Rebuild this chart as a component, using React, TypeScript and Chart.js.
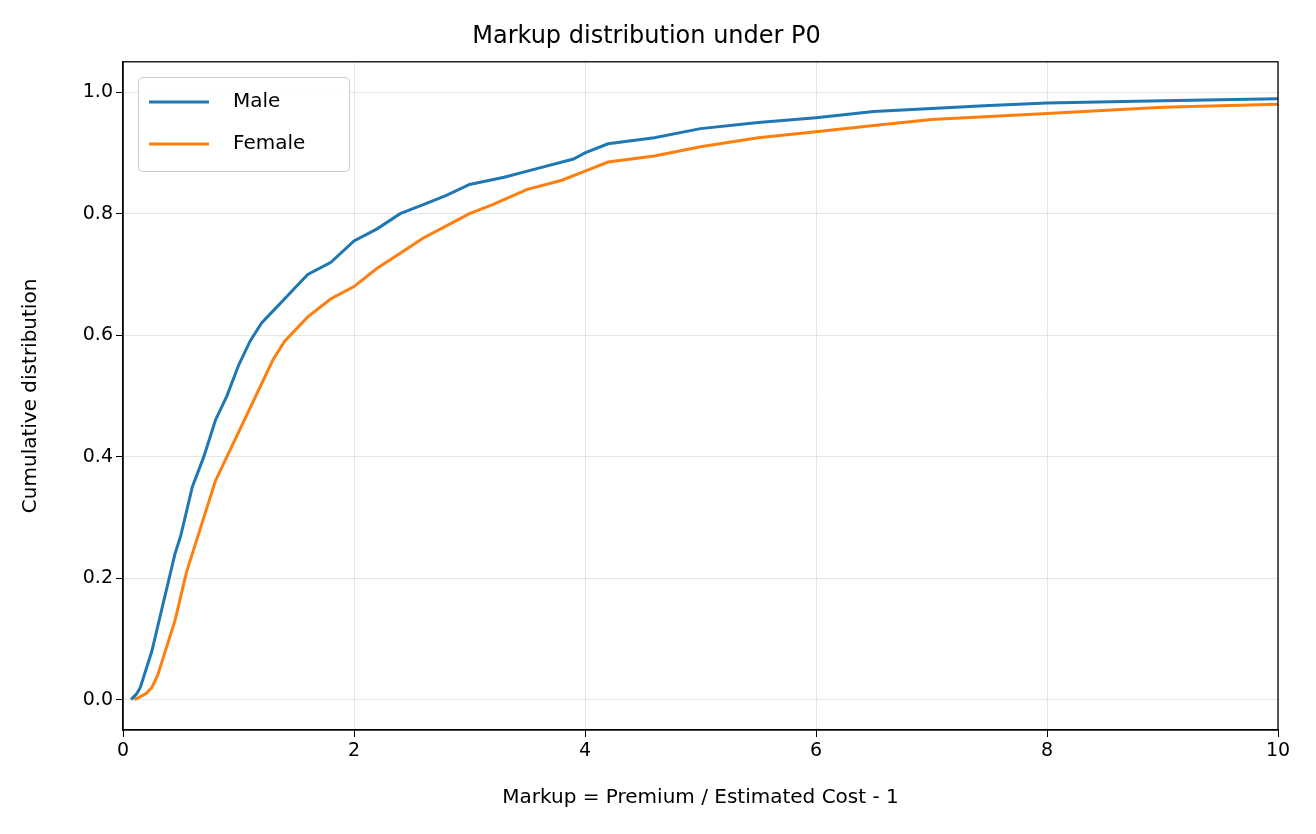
import React, { useEffect, useRef } from "react";
import { Chart, registerables } from "chart.js";
Chart.register(...registerables);

const maleX = [0.07,0.12,0.15,0.2,0.25,0.3,0.35,0.4,0.45,0.5,0.55,0.6,0.7,0.8,0.9,1.0,1.1,1.2,1.3,1.4,1.5,1.6,1.8,2.0,2.2,2.4,2.6,2.8,3.0,3.3,3.6,3.9,4.0,4.2,4.6,5.0,5.5,6.0,6.5,7.0,7.5,8.0,9.0,10];
const maleY = [0,0.01,0.02,0.05,0.08,0.12,0.16,0.2,0.24,0.27,0.31,0.35,0.4,0.46,0.5,0.55,0.59,0.62,0.64,0.66,0.68,0.7,0.72,0.755,0.775,0.8,0.815,0.83,0.848,0.86,0.875,0.89,0.9,0.915,0.925,0.94,0.95,0.958,0.968,0.973,0.978,0.982,0.986,0.989];
const femaleX = [0.1,0.15,0.2,0.25,0.3,0.35,0.4,0.45,0.5,0.55,0.6,0.7,0.8,0.9,1.0,1.1,1.2,1.3,1.4,1.6,1.8,2.0,2.2,2.4,2.6,2.8,3.0,3.2,3.5,3.8,4.0,4.2,4.6,5.0,5.5,6.0,6.5,7.0,8.0,9.0,10];
const femaleY = [0,0.005,0.01,0.02,0.04,0.07,0.1,0.13,0.17,0.21,0.24,0.3,0.36,0.4,0.44,0.48,0.52,0.56,0.59,0.63,0.66,0.68,0.71,0.735,0.76,0.78,0.8,0.815,0.84,0.855,0.87,0.885,0.895,0.91,0.925,0.935,0.945,0.955,0.965,0.975,0.98];
const seriesNames = ["Male", "Female"];
const colors = ["#1f77b4", "#ff7f0e"];
const FONT = "DejaVu Sans";

export default function App() {
  const ref = useRef<HTMLCanvasElement>(null);
  useEffect(() => {
    document.body.style.margin = "0";
    const legendPlugin = {
      id: "mplLegend",
      afterDraw(chart: any) {
        const ctx = chart.ctx;
        ctx.save();
        const x = 138, y = 77, w = 211, h = 94;
        ctx.fillStyle = "rgba(255,255,255,0.9)";
        ctx.strokeStyle = "#cccccc";
        ctx.lineWidth = 1;
        ctx.beginPath();
        (ctx as any).roundRect(x + 0.5, y + 0.5, w, h, 4);
        ctx.fill();
        ctx.stroke();
        ctx.font = `20px '${FONT}'`;
        ctx.textBaseline = "middle";
        seriesNames.forEach((n, i) => {
          const yy = y + 25 + i * 42;
          ctx.strokeStyle = colors[i];
          ctx.lineWidth = 3;
          ctx.beginPath();
          ctx.moveTo(x + 11, yy);
          ctx.lineTo(x + 71, yy);
          ctx.stroke();
          ctx.fillStyle = "#000";
          ctx.fillText(n, x + 95, yy);
        });
        ctx.restore();
      },
    };
    const mk = (xs: number[], ys: number[]) => xs.map((v, i) => ({ x: v, y: ys[i] }));
    const chart = new Chart(ref.current!, {
      type: "line",
      data: {
        datasets: [
          { label: seriesNames[0], data: mk(maleX, maleY), borderColor: colors[0], borderWidth: 3, pointRadius: 0 },
          { label: seriesNames[1], data: mk(femaleX, femaleY), borderColor: colors[1], borderWidth: 3, pointRadius: 0 },
        ],
      },
      options: {
        animation: false,
        responsive: false,
        layout: { padding: { left: 15, right: 38, top: 0, bottom: 20 } },
        plugins: {
          legend: { display: false },
          tooltip: { enabled: false },
          title: { display: true, text: "Markup distribution under P0", color: "#000", font: { family: FONT, size: 24, weight: "normal" }, padding: { top: 22, bottom: 11 } },
        },
        scales: {
          x: {
            type: "linear", min: 0, max: 10,
            ticks: { stepSize: 2, color: "#000", font: { family: FONT, size: 19 } },
            grid: { color: "rgba(0,0,0,0.1)", tickColor: "#000", tickLength: 7 },
            border: { color: "#000", width: 1.3 },
            title: { display: true, text: "Markup = Premium / Estimated Cost - 1", color: "#000", font: { family: FONT, size: 20 } },
            afterFit(s: any) { s.height = 84; },
          },
          y: {
            type: "linear", min: -0.05, max: 1.05,
            afterBuildTicks(s: any) { s.ticks = [0, 0.2, 0.4, 0.6, 0.8, 1.0].map((v) => ({ value: v })); },
            ticks: { color: "#000", font: { family: FONT, size: 19 }, callback: (v: any) => Number(v).toFixed(1) },
            grid: { color: "rgba(0,0,0,0.1)", tickColor: "#000", tickLength: 7 },
            border: { color: "#000", width: 1.3 },
            title: { display: true, text: "Cumulative distribution", color: "#000", font: { family: FONT, size: 20 } },
            afterFit(s: any) { s.width = 108; },
          },
        },
      } as any,
      plugins: [
        legendPlugin,
        { id: "frame", afterDatasetsDraw(c: any) { const a = c.chartArea, ctx = c.ctx; ctx.save(); ctx.strokeStyle = "#000"; ctx.lineWidth = 1.3; ctx.strokeRect(a.left, a.top, a.right - a.left, a.bottom - a.top); ctx.restore(); } },
      ],
    });
    return () => chart.destroy();
  }, []);
  return <canvas ref={ref} width={1316} height={834} style={{ display: "block" }} />;
}
